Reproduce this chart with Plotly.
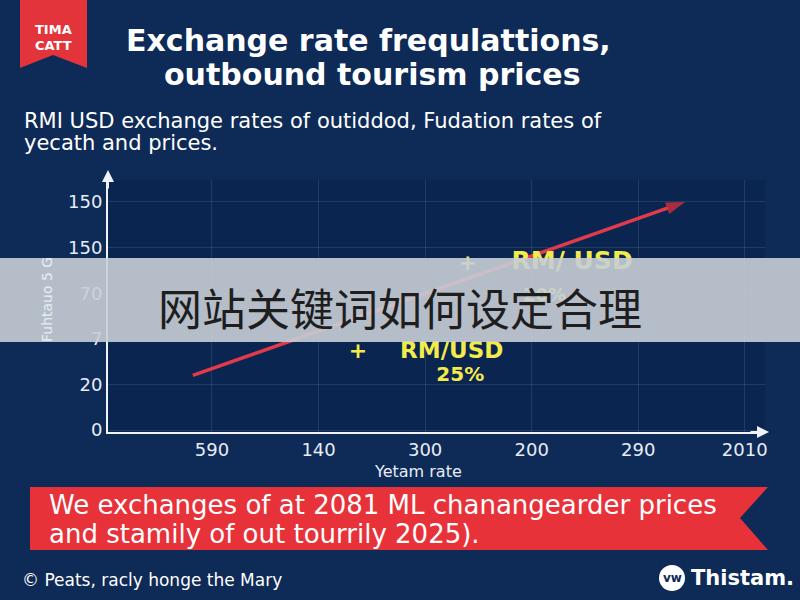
import plotly.graph_objects as go

# ---- data ----
x_tick_labels = ["590", "140", "300", "200", "290", "2010"]
y_tick_labels = ["0", "20", "7", "70", "150", "150"]
trend_x = [-0.18, 4.44]
trend_y = [1.2, 5.0]
label_x = [2.40, 3.38, 3.12, 1.37, 2.25, 2.33]
label_y = [3.62, 3.67, 2.93, 1.71, 1.71, 1.18]
label_text = ["+", "RM/ USD", "20%", "+", "RM/USD", "25%"]
label_size = [22, 25, 18, 22, 23, 20]

W, H = 800, 600
L, R, T, B = 108, 765, 180, 432


def px(x):
    return (x - L) / (R - L)


def py(y):
    return (B - y) / (B - T)


def path(points):
    return "M " + " L ".join(f"{px(a):.5f},{py(b):.5f}" for a, b in points) + " Z"


fig = go.Figure()

fig.add_trace(go.Scatter(
    x=trend_x, y=trend_y, mode="lines+markers",
    line=dict(color="#e23a4a", width=3.5),
    marker=dict(symbol=["circle", "arrow"], size=[0, 20], angleref="previous",
                color="#e8303c", line=dict(width=0)),
    hoverinfo="skip", showlegend=False,
))

fig.add_trace(go.Scatter(
    x=label_x, y=label_y, mode="text", text=label_text,
    textfont=dict(family="DejaVu Sans", size=label_size, color="#f3ea4c", weight="bold"),
    textposition="middle center", hoverinfo="skip", showlegend=False,
))

navy = "#0e2a57"
tickfont = dict(family="DejaVu Sans", size=18, color="#e8edf5")
fig.update_layout(
    width=W, height=H,
    margin=dict(l=L, r=W - R, t=T, b=H - B),
    paper_bgcolor=navy, plot_bgcolor="#0a2550",
    font=dict(family="DejaVu Sans", color="#e8edf5"),
    showlegend=False,
    xaxis=dict(
        range=[-0.976, 5.19], tickvals=list(range(len(x_tick_labels))),
        ticktext=x_tick_labels, tickfont=tickfont,
        showgrid=True, gridcolor="rgba(255,255,255,0.10)", gridwidth=1,
        zeroline=False, showline=True, linecolor="#f0f4fa", linewidth=2,
        ticks="", ticklen=0, fixedrange=True,
    ),
    yaxis=dict(
        range=[-0.04, 5.48], tickvals=list(range(len(y_tick_labels))),
        ticktext=y_tick_labels, tickfont=tickfont,
        showgrid=True, gridcolor="rgba(255,255,255,0.10)", gridwidth=1,
        zeroline=False, showline=True, linecolor="#f0f4fa", linewidth=2,
        ticks="", ticksuffix=" ", fixedrange=True,
    ),
)

shapes = []
# top-left ribbon
shapes.append(dict(type="path", xref="paper", yref="paper", layer="above",
                   path=path([(20, 0), (87, 0), (87, 68), (53, 55), (20, 68)]),
                   fillcolor="#e3343c", line=dict(width=0)))
# bottom red banner with notch
shapes.append(dict(type="path", xref="paper", yref="paper", layer="above",
                   path=path([(30, 487), (768, 487), (740, 518), (768, 550), (30, 550)]),
                   fillcolor="#e8323a", line=dict(width=0)))
# logo circle
shapes.append(dict(type="circle", xref="paper", yref="paper", layer="above",
                   x0=px(659), x1=px(685), y0=py(591), y1=py(565),
                   fillcolor="#ffffff", line=dict(width=0)))
# overlay band
shapes.append(dict(type="rect", xref="paper", yref="paper", layer="above",
                   x0=px(0), x1=px(800), y0=py(342), y1=py(258),
                   fillcolor="rgba(200,206,213,0.9)", line=dict(width=0)))
fig.update_layout(shapes=shapes)

ann = []


def text(xp, yp, s, size, color="#ffffff", xanchor="left", bold=False, angle=0,
         family="DejaVu Sans"):
    ann.append(dict(x=px(xp), y=py(yp), xref="paper", yref="paper", text=s,
                    showarrow=False, xanchor=xanchor, yanchor="middle",
                    textangle=angle,
                    font=dict(family=family, size=size, color=color,
                              weight="bold" if bold else "normal")))


text(53, 30, "TIMA", 13, bold=True, xanchor="center")
text(53, 46, "CATT", 13, bold=True, xanchor="center")
text(368, 40, "Exchange rate frequlattions,", 30, bold=True, xanchor="center")
text(372, 75, "outbound tourism prices", 30, bold=True, xanchor="center")
text(22, 121, "RMI USD exchange rates of outiddod, Fudation rates of", 21)
text(22, 143, "yecath and prices.", 21)
text(418, 471, "Yetam rate", 16, color="#e8edf5", xanchor="center")
text(47, 300, "Fuhtauo 5 G", 14, color="#e8edf5", xanchor="center", angle=-90)
text(47, 505, "We exchanges of at 2081 ML chanangearder prices", 26)
text(47, 534, "and stamily of out tourrily 2025).", 26)
text(20, 580, "© Peats, racly honge the Mary", 17)
text(672, 578, "vw", 12, color="#0e2a57", xanchor="center", bold=True)
text(689, 578, "Thistam.", 21, bold=True)
text(400, 307, "网站关键词如何设定合理", 44, color="#1e1e1e", xanchor="center",
     family="Noto Sans CJK SC")

# axis arrowheads
ann.append(dict(x=px(769), y=py(432), xref="paper", yref="paper", ax=-20, ay=0,
                axref="pixel", ayref="pixel", showarrow=True, arrowhead=2,
                arrowsize=1.2, arrowwidth=2, arrowcolor="#f0f4fa", text=""))
ann.append(dict(x=px(108), y=py(170), xref="paper", yref="paper", ax=0, ay=20,
                axref="pixel", ayref="pixel", showarrow=True, arrowhead=2,
                arrowsize=1.2, arrowwidth=2, arrowcolor="#f0f4fa", text=""))
fig.update_layout(annotations=ann)

fig.write_html("out.html")
